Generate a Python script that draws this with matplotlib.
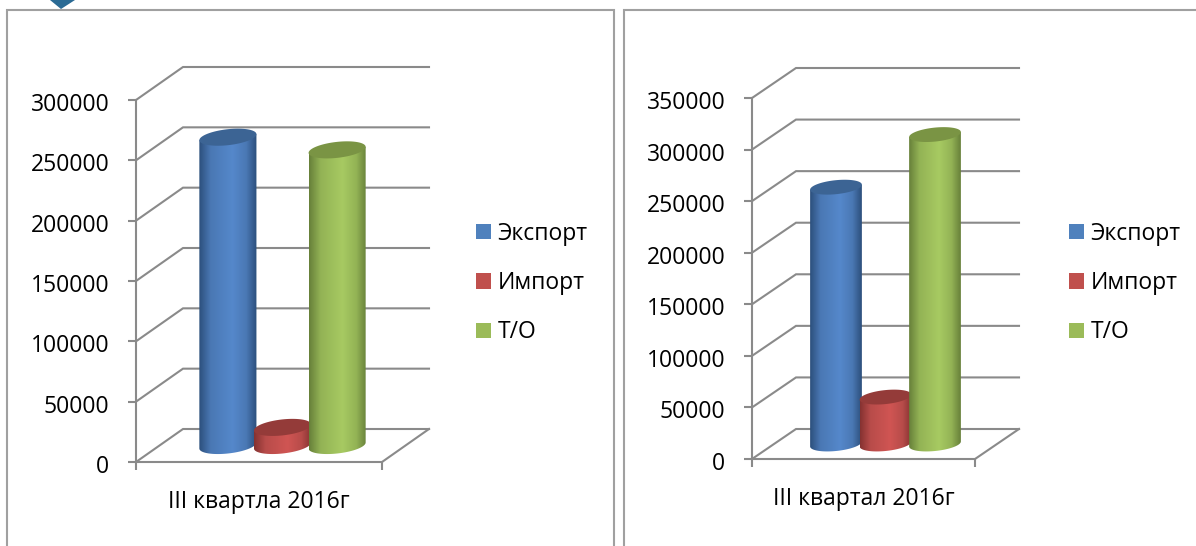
import numpy as np
import matplotlib
matplotlib.use("Agg")
import matplotlib.pyplot as plt
from matplotlib.colors import LinearSegmentedColormap
from matplotlib.patches import Polygon, Patch, Rectangle
from matplotlib.transforms import ScaledTranslation

plt.rcParams['font.family'] = ['Open Sans', 'DejaVu Sans']

W = 1196
H = 546

# data
series_names = ["Экспорт", "Импорт", "Т/О"]
left_values = [255500, 15000, 245000]
right_values = [249000, 45500, 300000]
left_ticks = [0, 50000, 100000, 150000, 200000, 250000, 300000]
right_ticks = [0, 50000, 100000, 150000, 200000, 250000, 300000, 350000]
left_label = "III квартла 2016г"
right_label = "III квартал 2016г"

legend_colors = ["#4f81bd", "#c0504d", "#9bbb59"]
top_colors = ["#3c6494", "#943b39", "#7a9444"]
edge_colors = ["#2c4f7c", "#853231", "#67803a"]
side_colors = ["#4a78b4", "#b84c4a", "#93b355"]
mid_colors = ["#5588cb", "#d05553", "#a7ca62"]
GREY = "#8a8a8a"
FONT = 16.5


def add_axes_px(fig, x0, x1, y_top, y_bottom):
    return fig.add_axes([x0 / W, 1 - y_bottom / H, (x1 - x0) / W, (y_bottom - y_top) / H])


def cylinder(ax, x, width, base, value, b, k, i):
    # body: straight sides, rounded bottom, slightly tilted ellipses
    a = width / 2
    t = np.linspace(np.pi, 2 * np.pi, 60)
    bx = x + a * np.cos(t)
    by = base + b * np.sin(t) + k * np.cos(t)
    top = base + value
    xs = np.r_[bx, x + a, x - a]
    ys = np.r_[by, top + k, top - k]
    body = Polygon(np.c_[xs, ys], closed=True, fc="none", ec="none", transform=ax.transData)
    ax.add_patch(body)
    cmap = LinearSegmentedColormap.from_list("c", [(0, edge_colors[i]), (0.2, side_colors[i]), (0.58, mid_colors[i]),
                                                   (0.82, side_colors[i]), (1, edge_colors[i])])
    img = ax.imshow(np.linspace(0, 1, 128)[None, :], cmap=cmap, aspect="auto",
                    extent=(x - a, x + a, base - 2 * b, top + 2 * b), zorder=3 + i)
    img.set_clip_path(body)
    # top ellipse
    t = np.linspace(0, 2 * np.pi, 90)
    ax.add_patch(Polygon(np.c_[x + a * np.cos(t), top + b * np.sin(t) + k * np.cos(t)], closed=True,
                         fc=top_colors[i], ec="none", zorder=3.5 + i, clip_on=False))


def panel(fig, box, depth_px, ticks, values, label, label_y_px, legend_x, ellipse_px):
    x0, x1, y_top, y_bottom = box
    ax = add_axes_px(fig, x0, x1, y_top, y_bottom)
    vmax = ticks[-1]
    ax.set_xlim(0, 1)
    ax.set_ylim(0, vmax)
    ax.patch.set_visible(False)
    per_px = vmax / (y_bottom - y_top)
    dx = depth_px[0] / (x1 - x0)
    dy = depth_px[1] * per_px

    # walls and floor
    for v in ticks:
        ax.plot([0, dx, 1 + dx], [v, v + dy, v + dy], color=GREY, lw=1.5, clip_on=False, zorder=1,
                solid_joinstyle="miter")
    ax.plot([1, 1 + dx], [0, dy], color=GREY, lw=1.5, clip_on=False, zorder=1)

    # three cylinders side by side
    width = 0.232
    b = ellipse_px[0] * per_px
    k = ellipse_px[1] * per_px
    for i, v in enumerate(values):
        x = 0.5 + (i - 1) * 0.222 + dx / 2
        cylinder(ax, x, width, dy / 2, v, b, k, i)
    ax.set_xlim(0, 1)
    ax.set_ylim(0, vmax)

    for s in ["top", "right"]:
        ax.spines[s].set_visible(False)
    for s in ["left", "bottom"]:
        ax.spines[s].set_color(GREY)
        ax.spines[s].set_linewidth(1.5)
    ax.set_yticks(ticks)
    ax.set_xticks([0, 1])
    ax.set_xticklabels([])
    ax.tick_params(axis="both", color=GREY, width=1.5, length=5.8, labelsize=FONT, labelcolor="black", pad=12)
    # tick text sits a little low in the original
    shift = ScaledTranslation(-2 / 100, -2 / 100, fig.dpi_scale_trans)
    for t in ax.get_yticklabels():
        t.set_transform(t.get_transform() + shift)
    fig.text((x0 + x1) / 2 / W, 1 - label_y_px / H, label, fontsize=FONT, color="black", ha="center", va="center")

    handles = [Patch(fc=c, ec="none") for c in legend_colors]
    ax.legend(handles, series_names, loc="center left", frameon=False, fontsize=FONT,
              bbox_to_anchor=(legend_x / W, 1 - 283 / H), bbox_transform=fig.transFigure,
              handlelength=0.65, handleheight=0.65, handletextpad=0.3, labelspacing=1.1,
              borderpad=0, borderaxespad=0)
    return ax


fig = plt.figure(figsize=(W / 100, H / 100), dpi=100)

# page frames behind the charts
for x, w in [(7, 607), (624, 590)]:
    fig.add_artist(Rectangle((x / W, -0.1), w / W, 1.1 - 10 / H, transform=fig.transFigure,
                             fc="white", ec="#a0a0a0", lw=1.5, zorder=-2))
# piece of a decoration cut by the top edge
fig.add_artist(Polygon([(50 / W, 1), (75 / W, 1), (61 / W, 1 - 9 / H)], closed=True,
                       transform=fig.transFigure, fc="#2a6a94", ec="none", zorder=-1))

panel(fig, (136, 382, 100, 462), (47, 33), left_ticks, left_values, left_label, 502, 476, (8, 3))
panel(fig, (752, 975, 98, 459), (44, 30), right_ticks, right_values, right_label, 499, 1069, (7, 2.5))

fig.savefig("out.png", dpi=100)
